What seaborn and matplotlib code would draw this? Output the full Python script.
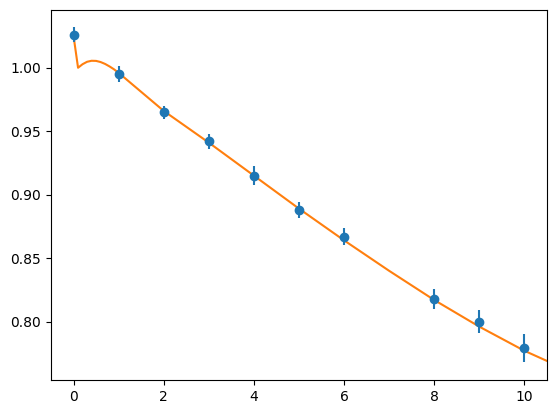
import matplotlib
matplotlib.use("Agg")
import matplotlib.pyplot as plt
import seaborn as sns
import pandas as pd

# measured points
x_pts = [0, 1, 2, 3, 4, 5, 6, 8, 9, 10]
y_pts = [1.026, 0.995, 0.965, 0.942, 0.915, 0.888, 0.867, 0.818, 0.800, 0.779]
y_err = [0.006, 0.006, 0.005, 0.006, 0.0075, 0.0063, 0.0066, 0.008, 0.009, 0.011]

# fitted curve
x_fit = [0.0, 0.1, 0.2, 0.3, 0.4, 0.5, 0.6, 0.7, 0.8, 0.9, 1.0, 1.5, 2.0, 3.0, 4.0,
         5.0, 6.0, 7.0, 8.0, 9.0, 10.0, 10.5]
y_fit = [1.025, 1.000, 1.0028, 1.0047, 1.0055, 1.0054, 1.0045, 1.003, 1.001, 0.9987,
         0.996, 0.981, 0.966, 0.941, 0.915, 0.889, 0.864, 0.840, 0.817, 0.796, 0.777, 0.769]

fig = plt.figure(figsize=(5.56, 4.13), dpi=100)
ax = fig.add_axes([51 / 556, 33 / 413, 496 / 556, 370 / 413])

fit_df = pd.DataFrame({"x": x_fit, "y": y_fit})
sns.lineplot(data=fit_df, x="x", y="y", sort=False, color="#ff7f0e", linewidth=1.5, ax=ax)
ax.errorbar(x_pts, y_pts, yerr=y_err, fmt="o", color="#1f77b4")

ax.set_xlim(-0.5, 10.5)
ax.set_ylim(0.754, 1.0455)
ax.set_xticks([0, 2, 4, 6, 8, 10])
ax.set_yticks([0.80, 0.85, 0.90, 0.95, 1.00])
ax.set_xlabel("")
ax.set_ylabel("")

fig.savefig("out.png", dpi=100)
